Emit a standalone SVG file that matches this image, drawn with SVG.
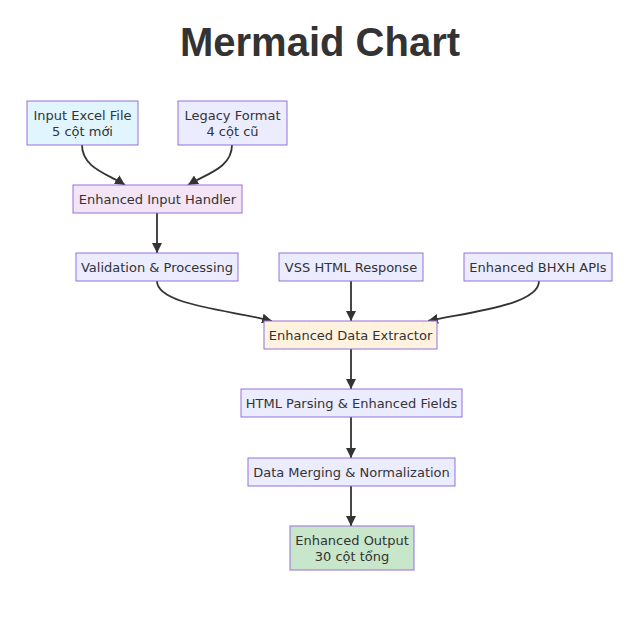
<svg xmlns="http://www.w3.org/2000/svg" width="640" height="624" viewBox="0 0 640 624">
<style>
.bg{fill:#ffffff}
.title{font-family:"Liberation Sans",Arial,sans-serif;font-size:40px;font-weight:bold;fill:#333333;text-anchor:middle}
.node rect{stroke:#9370DB;stroke-width:1}
.node text{font-family:"DejaVu Sans",Verdana,sans-serif;font-size:13px;fill:#333333;text-anchor:middle}
.def{fill:#ECECFF}
.edge{fill:none;stroke:#333333;stroke-width:1.8}
</style>
<defs>
<marker id="arrow" viewBox="0 0 10 10" refX="10" refY="5" markerUnits="userSpaceOnUse" markerWidth="10" markerHeight="10" orient="auto">
<path d="M0,0 L10,5 L0,10 z" fill="#333333"/>
</marker>
</defs>
<rect class="bg" x="0" y="0" width="640" height="624"/>
<text class="title" x="320" y="56">Mermaid Chart</text>
<g id="connectors">
<path class="edge" d="M82,145 C82,168 108,174 125,185" marker-end="url(#arrow)"/>
<path class="edge" d="M232,145 C232,168 206,174 188,185" marker-end="url(#arrow)"/>
<path class="edge" d="M157,213 L157,253" marker-end="url(#arrow)"/>
<path class="edge" d="M157,281 C157,305 230,310 272,321" marker-end="url(#arrow)"/>
<path class="edge" d="M351,281 L351,321" marker-end="url(#arrow)"/>
<path class="edge" d="M539,281 C539,305 470,312 428,321" marker-end="url(#arrow)"/>
<path class="edge" d="M351,349 L351,389" marker-end="url(#arrow)"/>
<path class="edge" d="M351,417 L351,458" marker-end="url(#arrow)"/>
<path class="edge" d="M351,486 L351,526" marker-end="url(#arrow)"/>
</g>
<g id="input-excel" class="node">
<rect x="27" y="101" width="111" height="44" fill="#e1f5fe"/>
<text x="82.5" y="119.5">Input Excel File</text>
<text x="82.5" y="135.5">5 cột mới</text>
</g>
<g id="legacy-format" class="node">
<rect class="def" x="178" y="101" width="109" height="44"/>
<text x="232.5" y="119.5">Legacy Format</text>
<text x="232.5" y="135.5">4 cột cũ</text>
</g>
<g id="input-handler" class="node">
<rect x="73" y="185" width="169" height="28" fill="#f3e5f5"/>
<text x="157.5" y="203.5">Enhanced Input Handler</text>
</g>
<g id="validation" class="node">
<rect class="def" x="76" y="253" width="162" height="28"/>
<text x="157" y="271.5">Validation &amp; Processing</text>
</g>
<g id="vss-html" class="node">
<rect class="def" x="279" y="253" width="144" height="28"/>
<text x="351" y="271.5">VSS HTML Response</text>
</g>
<g id="bhxh-apis" class="node">
<rect class="def" x="464" y="253" width="148" height="28"/>
<text x="538" y="271.5">Enhanced BHXH APIs</text>
</g>
<g id="data-extractor" class="node">
<rect x="264" y="321" width="173" height="28" fill="#fff3e0"/>
<text x="350.5" y="339.5">Enhanced Data Extractor</text>
</g>
<g id="html-parsing" class="node">
<rect class="def" x="241" y="389" width="221" height="28"/>
<text x="351.5" y="407.5">HTML Parsing &amp; Enhanced Fields</text>
</g>
<g id="data-merging" class="node">
<rect class="def" x="248" y="458" width="207" height="28"/>
<text x="351.5" y="476.5">Data Merging &amp; Normalization</text>
</g>
<g id="enhanced-output" class="node">
<rect x="290" y="526" width="124" height="44" fill="#c8e6c9"/>
<text x="352" y="544.5">Enhanced Output</text>
<text x="352" y="560.5">30 cột tổng</text>
</g>
</svg>
